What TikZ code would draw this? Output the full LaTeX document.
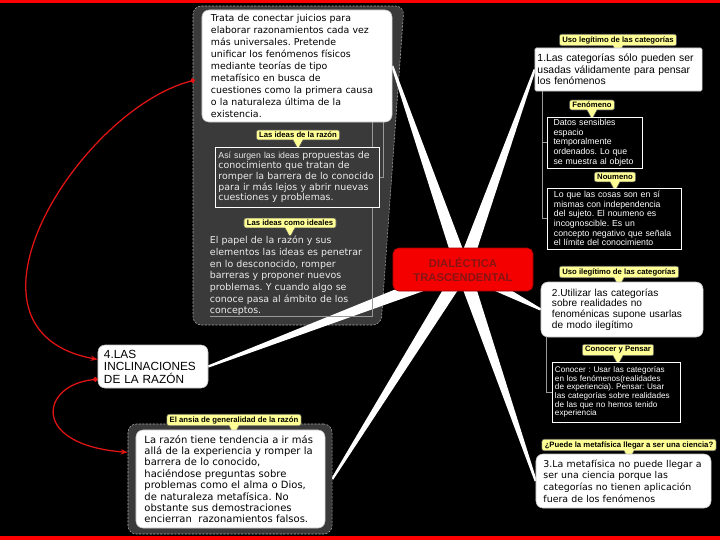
\documentclass[tikz,border=0pt]{standalone}
\usepackage{fontspec}
\setmainfont{DejaVu Sans}
\newfontfamily\arialfont{Liberation Sans}
\usepackage{tikz}
\usetikzlibrary{arrows.meta,calc,backgrounds,shapes.callouts}
\frenchspacing

\definecolor{panelgray}{RGB}{58,58,58}
\definecolor{tagyellow}{RGB}{255,255,150}
\definecolor{dialred}{RGB}{245,0,0}
\definecolor{dialtext}{RGB}{135,20,20}
\definecolor{linkred}{RGB}{225,20,20}

\tikzset{
  tag/.style={rectangle callout, callout relative pointer={(0pt,-6.5pt)},
    fill=tagyellow, draw=gray!70!black, rounded corners=1.5pt,
    inner xsep=2pt, inner ysep=1.5pt, text=black,
    font=\arialfont\bfseries\fontsize{5.5}{6}\selectfont},
  topic/.style={fill=white, draw=gray!50, rounded corners=5pt, inner sep=0pt,
    align=left, text=black},
  note/.style={draw=white, line width=0.7pt, inner sep=0pt, align=left, text=white},
  twig/.style={draw=gray!80, line width=0.5pt},
  spoke/.style={fill=white},
  link/.style={draw=linkred, line width=0.9pt,
    arrows={Circle[length=3.5pt]-Stealth[length=5pt]}},
  shell/.style={fill=panelgray, draw=gray!70, dash pattern=on 1.5pt off 1pt,
    rounded corners=6pt}
}

\begin{document}
\begin{tikzpicture}[x=0.025cm,y=-0.025cm]
  \useasboundingbox (0,0) rectangle (720,540);
  \begin{scope}[on background layer]
    \fill[black] (0,0) rectangle (720,540);
    \fill[red] (0,0) rectangle (720,3);
    \fill[red] (0,536) rectangle (720,540);
    % panel of the upper left branch
    \filldraw[shell] (193,6) -- (404,6) -- (381,325) -- (193,325) -- cycle;
  \end{scope}

  % upper left panel
  \node[topic, minimum width=4.75cm, minimum height=2.8cm, text width=4.3cm,
    font=\fontsize{6.7}{8.6}\selectfont] (tbox) at (297,66)
    {Trata de conectar juicios para\\ elaborar razonamientos cada vez\\
     más universales. Pretende\\ unificar los fenómenos físicos\\
     mediante teorías de tipo\\ metafísico en busca de\\
     cuestiones como la primera causa\\ o la naturaleza última de la\\ existencia.};
  \node[tag] (ideas) at (298,135) {Las ideas de la razón};
  \node[note, fill=panelgray, text=gray!15, minimum width=4.075cm, minimum height=1.5cm,
    text width=3.95cm, font=\fontsize{6.7}{7.6}\selectfont] (asi) at (297.5,177)
    {{\arialfont\fontsize{6.2}{7.6}\selectfont Así surgen las ideas} propuestas de\\
     conocimiento que tratan de\\ romper la barrera de lo conocido\\
     para ir más lejos y abrir nuevas\\ cuestiones y problemas.};
  \node[tag] (ideal) at (290,223) {Las ideas como ideales};
  \node[align=left, inner sep=0pt, text width=4.05cm, text=gray!15,
    font=\fontsize{6.7}{8.3}\selectfont] (papel) at (291,276)
    {El papel de la razón y sus\\ elementos las ideas es penetrar\\
     en lo desconocido, romper\\ barreras y proponer nuevos\\
     problemas. Y cuando algo se\\ conoce pasa al ámbito de los\\ conceptos.};

  % central topic
  \node[draw=red!60!black, fill=dialred, rounded corners=4pt, minimum width=3.5cm,
    minimum height=1.075cm, align=center, text=dialtext,
    font=\arialfont\bfseries\fontsize{8}{10}\selectfont] (dial) at (463,269.5)
    {DIALÉCTICA\\ TRASCENDENTAL};

  % right side
  \node[tag] (legit) at (618,40) {Uso legítimo de las categorías};
  \node[topic, rounded corners=1pt, minimum width=4.175cm, minimum height=1.075cm,
    text width=4.05cm, font=\arialfont\fontsize{7.4}{8.2}\selectfont] (one) at (618.5,69.5)
    {1.Las categorías sólo pueden ser\\ usadas válidamente para pensar\\ los fenómenos};
  \node[tag] (fen) at (592,105) {Fenómeno};
  \node[note, fill=black, minimum width=2.375cm, minimum height=1.275cm, text width=2.05cm,
    font=\arialfont\fontsize{6.2}{6.9}\selectfont] (feno) at (594.5,142.5)
    {Datos sensibles\\ espacio\\ temporalmente\\ ordenados. Lo que\\ se muestra al objeto};
  \node[tag] (nou) at (615,177) {Noumeno};
  \node[note, fill=black, minimum width=3.35cm, minimum height=1.525cm, text width=3.0cm,
    font=\arialfont\fontsize{6.2}{6.8}\selectfont] (noum) at (614,218.5)
    {Lo que las cosas son en sí\\ mismas con independencia\\ del sujeto. El noumeno es\\
     incognoscible. Es un\\ concepto negativo que señala\\ el límite del conocimiento};
  \node[tag] (illeg) at (619,272) {Uso ilegítimo de las categorías};
  \node[topic, minimum width=4.05cm, minimum height=1.375cm, text width=3.5cm,
    font=\arialfont\fontsize{7.2}{7.6}\selectfont] (two) at (622,309.5)
    {2.Utilizar las categorías\\ sobre realidades no\\ fenoménicas supone usarlas\\ de modo ilegítimo};
  \node[tag] (conp) at (618,350) {Conocer y Pensar};
  \node[note, fill=black, minimum width=3.2cm, minimum height=1.5cm, text width=3.05cm,
    font=\arialfont\fontsize{5.8}{6.1}\selectfont] (conoc) at (616,392)
    {Conocer : Usar las categorías\\ en los fenómenos(realidades\\ de experiencia). Pensar: Usar\\
     las categorías sobre realidades\\ de las que no hemos tenido\\ experiencia};
  \node[tag] (puede) at (629,445) {¿Puede la metafísica llegar a ser una ciencia?};
  \node[topic, minimum width=4.375cm, minimum height=1.35cm, text width=4cm,
    font=\fontsize{6.7}{8.3}\selectfont] (three) at (623.5,481)
    {3.La metafísica no puede llegar a\\ ser una ciencia porque las\\
     categorías no tienen aplicación\\ fuera de los fenómenos};

  % lower left
  \node[topic, minimum width=2.75cm, minimum height=1.075cm, text width=2.45cm,
    font=\arialfont\fontsize{8.4}{8.9}\selectfont] (incl) at (153,366.5)
    {4.LAS\\ INCLINACIONES\\ DE LA RAZÓN};
  \node[shell, minimum width=5.1cm, minimum height=2.75cm] (gen) at (230,479) {};
  \node[tag] (ansia) at (234,420) {El ansia de generalidad de la razón};
  \node[topic, minimum width=4.725cm, minimum height=2.45cm, text width=4.3cm,
    font=\fontsize{7.1}{8.1}\selectfont] (gentxt) at (230.5,479)
    {La razón tiene tendencia a ir más\\ allá de la experiencia y romper la\\
     barrera de lo conocido,\\ haciéndose preguntas sobre\\
     problemas como el alma o Dios,\\ de naturaleza metafísica. No\\
     obstante sus demostraciones\\ encierran\ \ razonamientos falsos.};

  \begin{scope}[on background layer]
    % branches from the central topic
    \foreach \t in {tbox.east,one.west,two.west,three.west,incl.east,gen.east}
      \fill[spoke] ($(dial.center)!5pt!90:(\t)$) -- ($(\t)!0.8pt!-90:(dial.center)$)
        -- ($(\t)!0.8pt!90:(dial.center)$) -- ($(dial.center)!5pt!-90:(\t)$) -- cycle;
    % sub topics
    \draw[twig] ($(tbox.south -| asi.east)+(3pt,0)$) |- (asi.east);
    \draw[twig] (tbox.south -| papel.east) -- (papel.south east) -- (papel.south west);
    \draw[twig] ($(one.south west)+(5.7pt,0)$) |- (feno.west);
    \draw[twig] ($(one.south west)+(5.7pt,0)$) |- (noum.west);
    \draw[twig] ($(two.south west)+(4.3pt,0)$) |- (conoc.west);
  \end{scope}

  % relations
  \coordinate (pin) at (195,80);
  \draw[link] (pin) .. controls (80,110) and (-60,330) .. ([yshift=5pt]incl.west);
  \draw[link] ([yshift=-9pt]incl.west) .. controls (40,385) and (30,445) .. ([yshift=19pt]gen.west);
\end{tikzpicture}
\end{document}
